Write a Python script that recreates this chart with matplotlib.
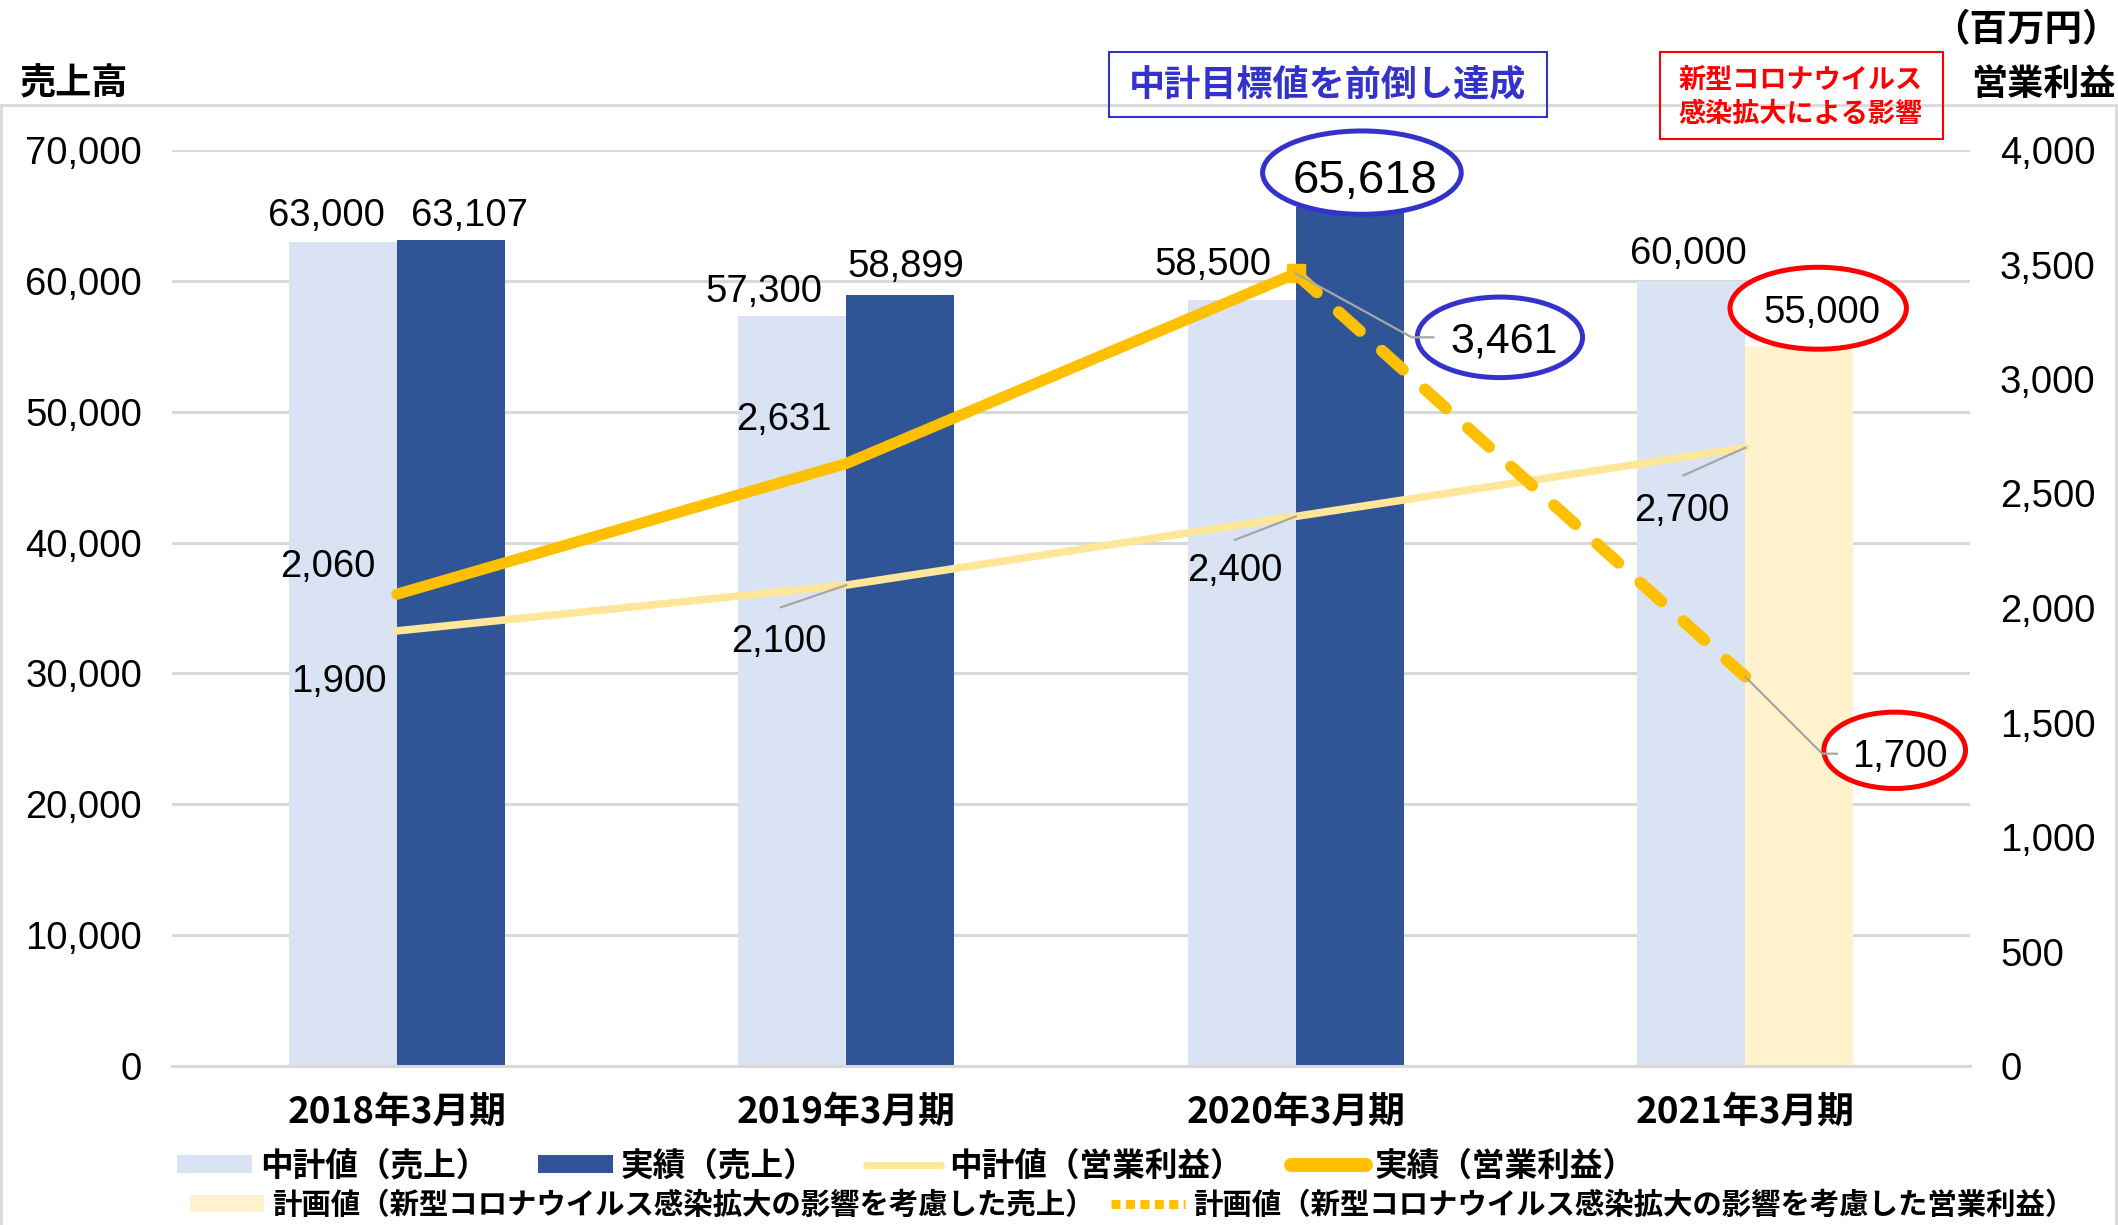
import numpy as np
import matplotlib.pyplot as plt
from matplotlib.lines import Line2D
from matplotlib.patches import Patch, Ellipse, Rectangle
from matplotlib.transforms import ScaledTranslation

JP = ["Noto Sans CJK JP", "DejaVu Sans"]
NUM = ["Liberation Sans", "DejaVu Sans"]
plt.rcParams["font.family"] = JP

categories = ["2018年3月期", "2019年3月期", "2020年3月期", "2021年3月期"]
sales_target = [63000, 57300, 58500, 60000]   # 中計値(売上)
sales_actual = [63107, 58899, 65618]          # 実績(売上), 2018-2020
sales_plan = [55000]                          # 計画値(売上), 2021
op_target = [1900, 2100, 2400, 2700]          # 中計値(営業利益)
op_actual = [2060, 2631, 3461]                # 実績(営業利益), 2018-2020
op_plan = [3461, 1700]                        # 計画値(営業利益), 2020-2021
sales_ticks = [0, 10000, 20000, 30000, 40000, 50000, 60000, 70000]
op_ticks = [0, 500, 1000, 1500, 2000, 2500, 3000, 3500, 4000]

LIGHT_BLUE = "#DAE3F3"
NAVY = "#2F5597"
CREAM = "#FFF2CC"
PALE_GOLD = "#FFE699"
GOLD = "#FFC000"
GRID = "#D9D9D9"
LEAD = "#A6A6A6"
BLUE = "#3333CC"
RED = "#FF0000"

W, H = 2118, 1225
fig = plt.figure(figsize=(W / 100, H / 100), dpi=100)
fig.set_facecolor("white")


def px(x, y):
    return x / W, 1 - y / H


ax = fig.add_axes([172 / W, 1 - 1066 / H, 1798 / W, 916 / H])
ax2 = ax.twinx()

x = np.arange(len(categories))
w = 0.24
ax.bar(x - w / 2, sales_target, w, color=LIGHT_BLUE, zorder=2)
ax.bar(x[:3] + w / 2, sales_actual, w, color=NAVY, zorder=2)
ax.bar(x[3:] + w / 2, sales_plan, w, color=CREAM, zorder=2)

ax.set_xlim(-0.5, 3.5)
ax.set_ylim(0, 70000)
ax.set_yticks(sales_ticks)
ax.set_yticklabels([f"{v:,}" for v in sales_ticks], family=NUM, fontsize=27.5)
ax.set_xticks(x)
ax.set_xticklabels(categories, fontsize=26.5, weight="bold")
ax.tick_params(axis="x", length=0, pad=20)
ax.tick_params(axis="y", length=0, pad=21.6)
ax.grid(axis="y", color=GRID, linewidth=2.2)
ax.set_axisbelow(True)
for s in ["top", "left", "right"]:
    ax.spines[s].set_visible(False)
ax.spines["bottom"].set_color(GRID)
ax.spines["bottom"].set_linewidth(2.2)

ax2.set_ylim(0, 4000)
ax2.set_yticks(op_ticks)
ax2.set_yticklabels([f"{v:,}" for v in op_ticks], family=NUM, fontsize=27.5)
ax2.tick_params(axis="y", length=0, pad=21.6)
for s in ax2.spines.values():
    s.set_visible(False)

# operating profit lines
ax2.plot(x, op_target, color=PALE_GOLD, lw=5.5, solid_capstyle="round", zorder=3)
ax2.plot(x[:3], op_actual, color=GOLD, lw=8, solid_capstyle="round", zorder=4)
ax2.plot(x[2:], op_plan, color=GOLD, lw=8.5, linestyle=(0, (2.4, 2.5)),
         dash_capstyle="round", zorder=4)
ax2.plot(x[2], op_actual[2], marker="s", ms=13, color=GOLD, zorder=4)


def label(axis, xv, yv, dx, dy, size=27.5):
    ax2.annotate(f"{yv:,}", (xv, yv), xycoords=axis.transData, xytext=(dx, dy),
                 textcoords="offset points", ha="center", va="center_baseline",
                 family=NUM, fontsize=size, zorder=8, annotation_clip=False)


def anchored(axis, xv, yv):
    # inches offset from a data point
    return fig.dpi_scale_trans + ScaledTranslation(xv, yv, axis.transData)


def leader(axis, xv, yv, pts):
    xs = [p[0] / 72 for p in [(0, 0)] + pts]
    ys = [p[1] / 72 for p in [(0, 0)] + pts]
    ax2.add_line(Line2D(xs, ys, color=LEAD, lw=1.6, transform=anchored(axis, xv, yv),
                        clip_on=False, zorder=7))


def ring(axis, xv, yv, cx, cy, ew, eh, color):
    ax2.add_patch(Ellipse((cx / 72, cy / 72), ew / 72, eh / 72, fc="white", ec=color,
                          lw=3.6, transform=anchored(axis, xv, yv), clip_on=False, zorder=6))


# bar value labels
for i, (v, off) in enumerate(zip(sales_target, [(-11.7, 21.4), (-20.4, 20.6), (-21, 28.5), (-2, 22.4)])):
    label(ax, x[i] - w / 2, v, *off)
label(ax, x[0] + w / 2, sales_actual[0], 13.6, 20.4)
label(ax, x[1] + w / 2, sales_actual[1], 3.9, 23)
ring(ax, x[2] + w / 2, sales_actual[2], 8.8, 25, 143, 60, BLUE)
label(ax, x[2] + w / 2, sales_actual[2], 11, 22.3, size=34)
ring(ax, x[3] + w / 2, sales_plan[0], 13.7, 27.4, 127, 59, RED)
label(ax, x[3] + w / 2, sales_plan[0], 16.5, 26.6)

# operating profit labels
for i, (v, off) in enumerate(zip(op_target, [(-41.6, -33.8), (-48.4, -37.8), (-43.8, -36.4), (-46, -42.5)])):
    label(ax2, x[i], v, *off)
leader(ax2, x[1], op_target[1], [(-47, -16)])
leader(ax2, x[2], op_target[2], [(-43.8, -16.9)])
leader(ax2, x[3], op_target[3], [(-44.6, -20)])

label(ax2, x[0], op_actual[0], -49.5, 22.5)
label(ax2, x[1], op_actual[1], -44.7, 34.4)
ring(ax2, x[2], op_actual[2], 147, -46, 119, 58, BLUE)
leader(ax2, x[2], op_actual[2], [(83.5, -46), (99, -46)])
label(ax2, x[2], op_actual[2], 150, -46, size=31)

ring(ax2, x[3], op_plan[1], 107.6, -53, 102, 55, RED)
leader(ax2, x[3], op_plan[1], [(55.4, -55.4), (66, -55.4)])
label(ax2, x[3], op_plan[1], 111.6, -54.7)

# outer frame of the chart area
fig.add_artist(Rectangle(px(1, 1300), 2115 / W, (1300 - 105) / H, transform=fig.transFigure,
                         fill=False, ec=GRID, lw=2))

# axis titles and unit
fig.text(*px(20, 84), "売上高", ha="left", va="center", fontsize=26, weight="bold")
fig.text(*px(2116, 84), "営業利益", ha="right", va="center", fontsize=26, weight="bold")
fig.text(*px(2120, 30), "（百万円）", ha="right", va="center", fontsize=27, weight="bold")

# callout boxes
fig.add_artist(Rectangle(px(1109, 117), 438 / W, 65 / H, transform=fig.transFigure,
                         fill=False, ec=BLUE, lw=1.5))
fig.text(*px(1328, 85), "中計目標値を前倒し達成", ha="center", va="center",
         fontsize=26, weight="bold", color=BLUE)
fig.add_artist(Rectangle(px(1660, 139), 283 / W, 87 / H, transform=fig.transFigure,
                         fill=False, ec=RED, lw=1.5))
fig.text(*px(1801, 97), "新型コロナウイルス\n感染拡大による影響", ha="center", va="center",
         fontsize=19.5, weight="bold", color=RED, linespacing=1.25, multialignment="center")

# legends (two rows)
h1 = [Patch(fc=LIGHT_BLUE), Patch(fc=NAVY),
      Line2D([], [], color=PALE_GOLD, lw=5, solid_capstyle="round"),
      Line2D([], [], color=GOLD, lw=10, solid_capstyle="round")]
l1 = ["中計値（売上）", "実績（売上）", "中計値（営業利益）", "実績（営業利益）"]
fig.legend(h1, l1, loc="center left", bbox_to_anchor=px(177, 1166), ncol=4, frameon=False,
           prop=dict(family=JP, size=23.5, weight="bold"), handlelength=2.3, handleheight=0.5,
           handletextpad=0.25, columnspacing=1.5, borderpad=0, borderaxespad=0)
h2 = [Patch(fc=CREAM), Line2D([], [], color=GOLD, lw=6.5, linestyle=(0, (1, 0.6)))]
l2 = ["計画値（新型コロナウイルス感染拡大の影響を考慮した売上）",
      "計画値（新型コロナウイルス感染拡大の影響を考慮した営業利益）"]
fig.legend(h2, l2, loc="center left", bbox_to_anchor=px(190, 1205), ncol=2, frameon=False,
           prop=dict(family=JP, size=21.2, weight="bold"), handlelength=2.5, handleheight=0.55,
           handletextpad=0.3, columnspacing=0.55, borderpad=0, borderaxespad=0)

fig.savefig("out.png", dpi=100, facecolor="white")
